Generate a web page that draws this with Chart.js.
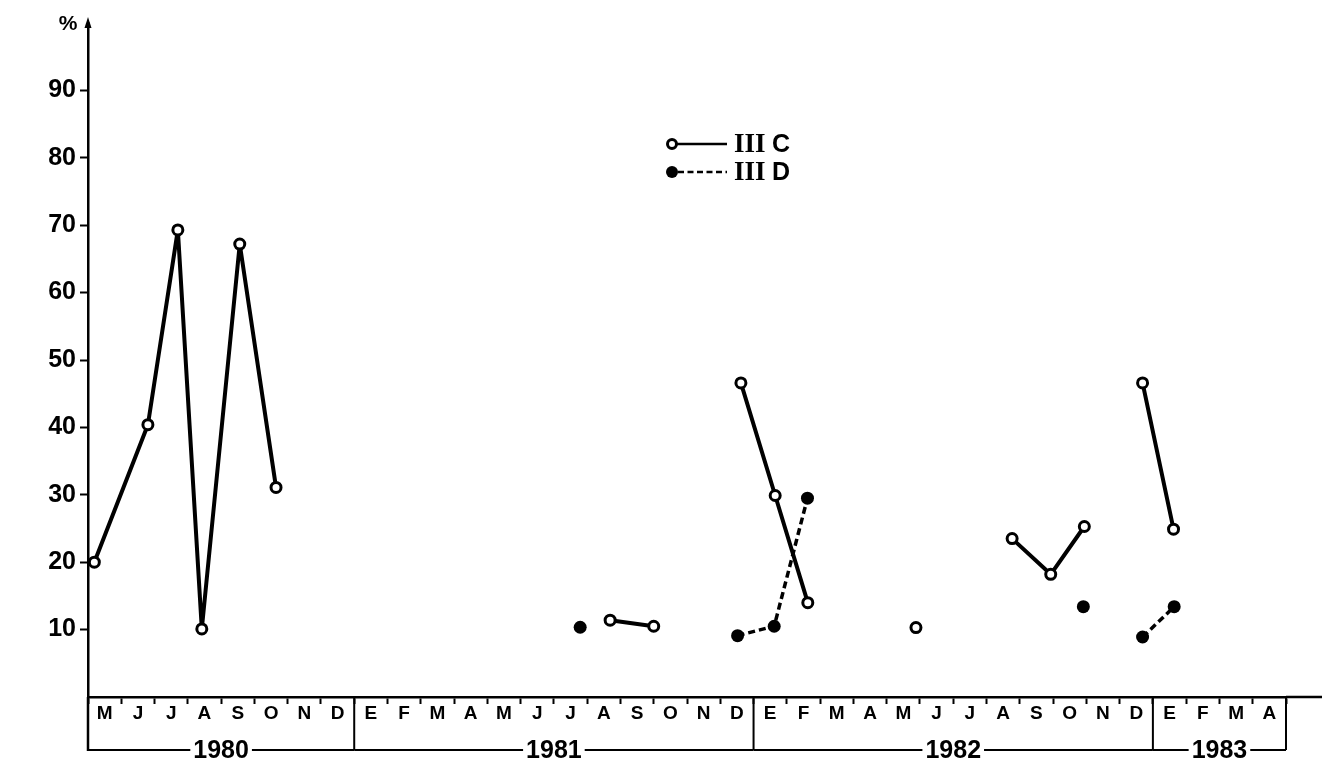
<!DOCTYPE html>
<html>
<head>
<meta charset="utf-8">
<script src="https://cdn.jsdelivr.net/npm/chart.js@4"></script>
<style>
  body { margin: 0; background: #fff; }
  .wrap { width: 1330px; height: 769px; position: relative; }
</style>
</head>
<body>
<div class="wrap"><canvas id="chart"></canvas></div>
<script>
// month letters along the axis (Spanish initials), M 1980 .. A 1983
const monthLabels = ['M','J','J','A','S','O','N','D',
  'E','F','M','A','M','J','J','A','S','O','N','D',
  'E','F','M','A','M','J','J','A','S','O','N','D',
  'E','F','M','A'];
const yearLabels = ['1980', '1981', '1982', '1983'];
const yearMonths = [8, 12, 12, 4];
const yTicks = [10, 20, 30, 40, 50, 60, 70, 80, 90];

// position in months counted from start of May 1980, null = break in the line
const cMonth = [0.19, 1.80, 2.70, 3.42, 4.56, 5.65, null, 15.69, 17.0, null, 19.62, 20.65, 21.63, null, 24.88, null, 27.77, 28.93, 29.94, null, 31.69, 32.62];
const cValue = [20, 40.4, 69.3, 10.1, 67.2, 31.1, null, 11.4, 10.5, null, 46.6, 29.9, 14.0, null, 10.3, null, 23.5, 18.2, 25.3, null, 46.6, 24.9];

const dMonth = [14.79, null, 19.52, 20.62, 21.62, null, 29.91, null, 31.69, 32.64];
const dValue = [10.35, null, 9.1, 10.5, 29.5, null, 13.4, null, 8.9, 13.4];

function toPoints(months, values) {
  let last = 0;
  return months.map((m, i) => {
    if (m !== null) last = m;
    return { x: last, y: values[i] };
  });
}

const decorations = {
  id: 'decorations',
  afterDraw(chart) {
    const ctx = chart.ctx;
    const area = chart.chartArea;
    const xs = chart.scales.x;
    const left = area.left;
    const bottom = area.bottom;
    const yearY = bottom + 53;
    ctx.save();
    ctx.strokeStyle = '#000';
    ctx.fillStyle = '#000';
    ctx.lineCap = 'butt';

    // y axis: arrow on top and drop to the year row
    ctx.lineWidth = 2.5;
    ctx.beginPath();
    ctx.moveTo(left, area.top);
    ctx.lineTo(left, 24);
    ctx.moveTo(left, bottom);
    ctx.lineTo(left, yearY + 1);
    ctx.stroke();
    ctx.beginPath();
    ctx.moveTo(left, 17);
    ctx.lineTo(left - 3.5, 28);
    ctx.lineTo(left + 3.5, 28);
    ctx.closePath();
    ctx.fill();

    // x axis line carried past the last month
    ctx.beginPath();
    ctx.moveTo(area.right, bottom);
    ctx.lineTo(1322, bottom);
    ctx.stroke();

    ctx.textAlign = 'center';
    ctx.textBaseline = 'middle';
    ctx.font = 'bold 21px "Liberation Sans"';
    ctx.fillText('%', 68, 24);

    // year boxes
    ctx.font = 'bold 25px "Liberation Sans"';
    let start = 0;
    yearMonths.forEach((n, i) => {
      const x0 = xs.getPixelForValue(start);
      const x1 = xs.getPixelForValue(start + n);
      const mid = (x0 + x1) / 2;
      const w = ctx.measureText(yearLabels[i]).width;
      ctx.lineWidth = 2;
      ctx.beginPath();
      ctx.moveTo(x1, bottom);
      ctx.lineTo(x1, yearY);
      ctx.moveTo(x0, yearY);
      ctx.lineTo(mid - w / 2 - 3, yearY);
      ctx.moveTo(mid + w / 2 + 3, yearY);
      ctx.lineTo(x1, yearY);
      ctx.stroke();
      ctx.fillText(yearLabels[i], mid, yearY + 1);
      start += n;
    });

    // legend
    ctx.lineWidth = 2.5;
    ctx.beginPath();
    ctx.moveTo(672, 144);
    ctx.lineTo(727, 144);
    ctx.stroke();
    ctx.lineWidth = 3;
    ctx.beginPath();
    ctx.arc(672, 144, 4.5, 0, Math.PI * 2);
    ctx.fillStyle = '#fff';
    ctx.fill();
    ctx.stroke();
    ctx.fillStyle = '#000';
    ctx.lineWidth = 2.5;
    ctx.setLineDash([6, 3.5]);
    ctx.beginPath();
    ctx.moveTo(678, 172);
    ctx.lineTo(727, 172);
    ctx.stroke();
    ctx.setLineDash([]);
    ctx.beginPath();
    ctx.arc(672, 172, 6, 0, Math.PI * 2);
    ctx.fill();

    ctx.textAlign = 'left';
    [['C', 144], ['D', 172]].forEach(([letter, y]) => {
      ctx.font = 'bold 27px "Liberation Serif"';
      ctx.fillText('III', 734, y + 1);
      ctx.font = 'bold 25px "Liberation Sans"';
      ctx.fillText(letter, 772, y + 1);
    });
    ctx.restore();
  }
};

new Chart(document.getElementById('chart'), {
  type: 'line',
  data: {
    datasets: [{
      label: 'III C',
      data: toPoints(cMonth, cValue),
      borderColor: '#000',
      borderWidth: 4,
      borderJoinStyle: 'round',
      pointRadius: 5,
      pointBorderWidth: 3,
      pointBackgroundColor: '#fff',
      pointBorderColor: '#000',
      spanGaps: false,
      tension: 0,
      clip: false
    }, {
      label: 'III D',
      data: toPoints(dMonth, dValue),
      borderColor: '#000',
      borderWidth: 3.5,
      borderDash: [7, 4],
      borderJoinStyle: 'round',
      pointRadius: 6.5,
      pointBorderWidth: 0,
      pointBackgroundColor: '#000',
      spanGaps: false,
      tension: 0,
      clip: false
    }]
  },
  options: {
    responsive: true,
    maintainAspectRatio: false,
    animation: false,
    layout: { padding: { left: 28, right: 44, top: 23, bottom: 42 } },
    plugins: {
      legend: { display: false },
      tooltip: { enabled: false }
    },
    scales: {
      x: {
        type: 'linear',
        display: false,
        min: 0,
        max: 36
      },
      xm: {
        type: 'category',
        labels: monthLabels,
        position: 'bottom',
        offset: true,
        afterFit: (s) => { s.height = 30; },
        grid: {
          offset: true,
          drawOnChartArea: false,
          tickLength: 7,
          tickColor: '#000',
          tickWidth: 2
        },
        border: { color: '#000', width: 2.5 },
        ticks: {
          color: '#000',
          font: { family: 'Liberation Sans', weight: 'bold', size: 19 },
          padding: -2,
          maxRotation: 0,
          autoSkip: false
        }
      },
      y: {
        min: 0,
        max: 100,
        afterBuildTicks: (s) => { s.ticks = yTicks.map(v => ({ value: v })); },
        afterFit: (s) => { s.width = 60; },
        grid: {
          drawOnChartArea: false,
          tickLength: 8,
          tickColor: '#000',
          tickWidth: 2
        },
        border: { color: '#000', width: 2.5 },
        ticks: {
          color: '#000',
          font: { family: 'Liberation Sans', weight: 'bold', size: 25 },
          padding: 4
        }
      }
    }
  },
  plugins: [decorations]
});
</script>
</body>
</html>
